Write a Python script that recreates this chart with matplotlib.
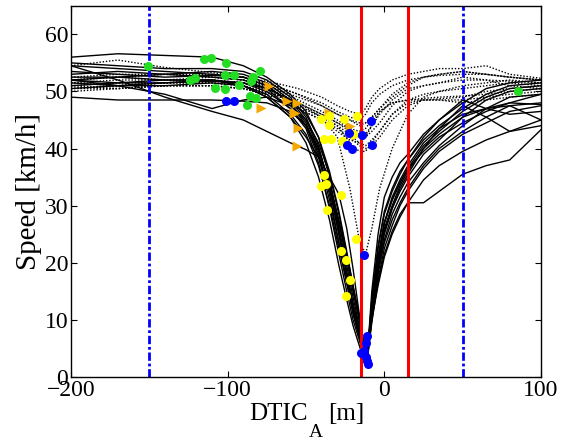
import matplotlib.pyplot as plt
import numpy as np

plt.rcParams['font.family'] = 'Liberation Serif'

# distance grids (m) for the solid runs: approach side and exit side
approach_x = [-200, -170, -140, -110, -90, -75, -60, -50, -42, -35, -29, -24, -20, -16, -13]
exit_x = [-11, -8, -4, 0, 5, 10, 15, 25, 35, 50, 65, 80, 100]

# speeds (km/h) of the solid runs, approach part
approach_speed = [
    [56, 56.6, 56.3, 56, 54.5, 52.5, 49.5, 46.5, 42, 35, 26, 18.5, 12.5, 7.5, 4.5],
    [54.5, 54, 53.5, 53, 52.5, 51, 48, 44.5, 39, 32, 23.5, 16.5, 11, 7, 4],
    [54.5, 52, 49, 46.5, 45, 43, 41, 39.8, 38.5, 33, 25, 18, 13, 8.5, 4],
    [53, 53.5, 53, 52.5, 52, 50.5, 47, 43.5, 37.5, 29.5, 21.5, 15, 10, 6.5, 3.5],
    [52.5, 52.5, 52, 52, 51, 49, 45.5, 41, 35, 27.5, 19.5, 13.5, 9, 5.5, 3],
    [52, 52.5, 53, 53.5, 53, 51.5, 48.5, 45, 40, 33.5, 26, 19.5, 14, 9, 5],
    [51.5, 51, 51, 51.5, 51, 49.5, 46, 42.5, 37, 30, 22.5, 16.5, 11.5, 7, 4],
    [50.5, 51, 51.5, 52, 51.5, 50, 47, 44, 39.5, 34, 27.5, 21, 15.5, 10, 5.5],
    [49, 48.5, 48.5, 48.5, 48.3, 48, 46.5, 44, 40, 34, 27, 20.5, 15, 10, 5.5],
    [53.5, 53, 52.5, 52.8, 52.5, 51, 48, 44, 38.5, 31, 23.5, 17, 12, 7.5, 4.5],
    [52, 51.5, 51.5, 51.8, 51.5, 50.5, 48.5, 46, 42, 36, 29, 22, 16, 10.5, 5.5],
    [51, 51.5, 52, 52, 51, 49, 45.5, 42, 38.5, 35, 32, 26, 19, 11, 5.5],
    [52, 51, 49.5, 47, 48.5, 49, 47.5, 45, 41, 35.5, 28.5, 21.5, 16, 10.5, 6],
    [55, 54.5, 54, 54, 53.5, 52, 49, 45.5, 40.5, 33, 25, 18, 12.5, 8, 4.5],
]

# speeds (km/h) of the solid runs, exit part
exit_speed = [
    [3, 15, 25, 31.5, 35, 37.5, 39, 42.5, 45, 48, 50.5, 51.5, 52],
    [3.5, 13.5, 23, 29, 33, 36, 38, 41.5, 44, 47, 49.5, 51, 51.5],
    [4, 12, 21, 27, 31, 34, 36.5, 40.5, 43, 46.5, 49, 50.5, 51],
    [3, 11, 19.5, 25.5, 29.5, 32.5, 35, 39, 41.5, 45.5, 48.5, 50, 50.5],
    [2.5, 10, 18, 24, 28.5, 31.5, 34, 37.5, 40.5, 44, 47, 49, 49.5],
    [4.5, 11.5, 18.5, 23.5, 27.5, 30.5, 33, 37, 40, 43, 45.5, 47.5, 48],
    [3, 9.5, 17, 22.5, 26.5, 30, 32.5, 36.5, 39.5, 42.5, 44.5, 46.5, 47.5],
    [5, 10.5, 16.5, 21.5, 25.5, 28.5, 30.5, 30.5, 32.5, 35.5, 37, 38, 43.3],
    [3, 10.5, 19, 25, 29.5, 33, 35.5, 40, 43.5, 47.5, 45.5, 43, 44],
    [3.5, 12.5, 21, 27, 31.5, 34.5, 37, 41, 43.5, 46, 47, 48, 47.7],
    [4, 10, 16, 21, 25, 28, 30.5, 34.5, 37, 39.5, 41.5, 43, 45],
    [2.5, 13.5, 22.5, 28.5, 32.5, 35.5, 38, 42, 45, 48.5, 47, 46, 46.5],
    [3.5, 11.5, 20, 26, 30, 33.5, 36, 40, 42.5, 45.5, 47, 47.5, 45],
    [2.5, 12, 20.5, 27, 31, 34, 36.5, 39.5, 42, 44.5, 46.5, 48, 49.5],
]

# dotted runs (no stop)
dotted_x = [-200, -170, -140, -110, -90, -70, -55, -40, -30, -22, -16, -12,
            -8, -3, 5, 15, 25, 35, 50, 65, 80, 100]
dotted_speed = [
    [54.5, 55.5, 54.2, 53.3, 52.5, 51.5, 50.5, 49, 47.5, 46.5, 46, 47, 49, 50.5, 52, 53, 53.5, 54, 54, 54.5, 53, 52.3],
    [52, 52.5, 53, 53, 52.5, 51, 49.5, 47.5, 46, 45, 44.5, 44.5, 45.5, 47, 49.5, 51.5, 52.5, 53, 53.5, 53, 52.5, 52],
    [51.5, 52, 52, 52.5, 52, 50.5, 48.5, 46.5, 45, 43.5, 42.5, 42, 43, 44.5, 47.5, 50, 51, 51.5, 52, 52, 51.8, 51.5],
    [51, 51.5, 51.5, 51.5, 51, 49.5, 47.5, 45.5, 44, 42.5, 41, 40.5, 41.5, 43, 46, 48.5, 49.5, 50, 51, 51.5, 52, 51.5],
    [50.5, 51, 51.5, 52, 51.5, 50, 48, 46, 44.5, 43, 42, 42.5, 44, 46, 48.5, 50.5, 51, 51.5, 52.5, 52, 51, 50.5],
    [50, 50.5, 51, 51, 50.5, 49, 47, 45, 43.5, 42, 40.5, 40, 40.5, 42, 45, 47.5, 48.5, 48.5, 48.5, 49, 49.5, 50],
    [51.5, 51, 51.5, 51.5, 51, 49.5, 47.5, 45.5, 44, 41, 39.5, 39.5, 41, 43, 46, 48, 48.5, 48.5, 48, 48.5, 49, 49.5],
    [52, 52.5, 52, 51.8, 51.5, 50.5, 49, 47.5, 46, 45, 44, 44.5, 45.5, 47, 49, 51, 52.5, 53, 53.5, 53, 52.5, 52],
    [50.5, 50.5, 51, 51, 50.5, 49.5, 48, 46, 44.5, 43.5, 43, 43.5, 45, 46.5, 48, 48.5, 48.8, 49, 49.2, 49.5, 50, 50.5],
    [51, 50.5, 51, 51, 50.5, 49, 47, 45, 43, 41.5, 41, 42, 44, 46.5, 48, 48.5, 48.5, 48.7, 49, 50, 50.5, 51],
    [50.5, 51, 51.5, 52, 51.5, 50, 48, 45.5, 42, 33, 24, 21.5, 26, 33, 40, 46, 49, 50, 50.5, 51, 51.5, 51],
    [52.5, 53, 53, 52.5, 52, 51, 49.5, 48, 46.5, 45.5, 45, 46, 48, 49.5, 51, 52, 52.5, 52.8, 53, 53, 52.5, 52],
]

# event markers (distance m, speed km/h)
green_x = [-151, -115.3, -110.6, -101, -79.5, -83.8, -101.9, -96.2, -123.8, -121,
           -85, -92.5, -107.9, -101.5, -85.5, -81.7, -87.6, 85]
green_y = [54.4, 55.6, 55.8, 54.9, 53.6, 52.6, 52.8, 52.8, 52, 52.3,
           51.9, 51.2, 50.6, 50.4, 49.2, 48.9, 47.6, 50.1]
orange_x = [-73.8, -62, -56, -79, -56.7, -55.2, -55.6, -35.4, -22, -18.3, -57.8]
orange_y = [50.9, 48.3, 48, 47.1, 46.3, 43.6, 40.4, 46.3, 43.9, 42.3, 46.3]
yellow_x = [-38.6, -34.3, -40.3, -35, -25.8, -17.7, -27.3, -38.2, -40.7, -37.4,
            -27.9, -36.9, -17.9, -27.9, -24.7, -22, -24.7, -35.4, -20]
yellow_y = [41.6, 41.6, 45.2, 44.2, 45.1, 45.7, 41.3, 35.4, 33.5, 33.8,
            31.9, 29.3, 24.2, 22, 20.5, 17, 14.2, 45.7, 42.5]
blue_x = [-101, -96.2, -23.7, -20.5, -22.6, -14, -8.3, -7.7, -13, -11.3,
          -15.2, -10.9, -13, -12, -11.5, -10.5]
blue_y = [48.4, 48.4, 40.7, 39.9, 42.7, 42.3, 44.9, 40.7, 21.4, 7.1,
          4.2, 2.7, 4.6, 3.5, 6, 2.2]

zone_red = [-15, 15]
zone_blue = [-150, 50]

fig = plt.figure(figsize=(5.63, 4.45), dpi=100)
ax = fig.add_axes([0.126, 0.153, 0.835, 0.834])

for ys_in, ys_out in zip(approach_speed, exit_speed):
    ax.plot(approach_x + exit_x, ys_in + ys_out, color='black', lw=1.0)

for ys in dotted_speed:
    ax.plot(dotted_x, ys, color='black', lw=1.0, linestyle=(0, (1, 1.3)))

for xv in zone_blue:
    ax.axvline(xv, color='blue', lw=2, linestyle=(0, (3, 1, 1, 1)))
for xv in zone_red:
    ax.axvline(xv, color='red', lw=2.2)

ax.plot(green_x, green_y, 'o', color='#22dd22', ms=6.5, mec='none', zorder=3)
ax.plot(orange_x, orange_y, '>', color='#f5a800', ms=7.5, mec='none', zorder=3)
ax.plot(yellow_x, yellow_y, 'o', color='yellow', ms=6.5, mec='none', zorder=3)
ax.plot(blue_x, blue_y, 'o', color='blue', ms=6.5, mec='none', zorder=3)

ax.set_xlim(-200, 100)
ax.set_ylim(0, 65)
ax.set_xticks([-200, -100, 0, 100])
ax.set_yticks([0, 10, 20, 30, 40, 50, 60])
ax.tick_params(direction='in', top=True, right=True, length=4, width=0.8,
               labelsize=17, pad=2)
for sp in ax.spines.values():
    sp.set_linewidth(1)

ax.set_ylabel('Speed [km/h]', fontsize=21, labelpad=2)

# x label with a lowered subscript, built from pieces
fig.canvas.draw()
r = fig.canvas.get_renderer()
t1 = fig.text(249 / 563, 25 / 445, 'DTIC', fontsize=18, va='baseline')
b1 = t1.get_window_extent(r)
t2 = fig.text((b1.x1 + 1) / 563, 8 / 445, 'A', fontsize=14, va='baseline')
b2 = t2.get_window_extent(r)
fig.text((b2.x1 + 5) / 563, 25 / 445, '[m]', fontsize=18, va='baseline')

fig.savefig('out.png', dpi=100)
